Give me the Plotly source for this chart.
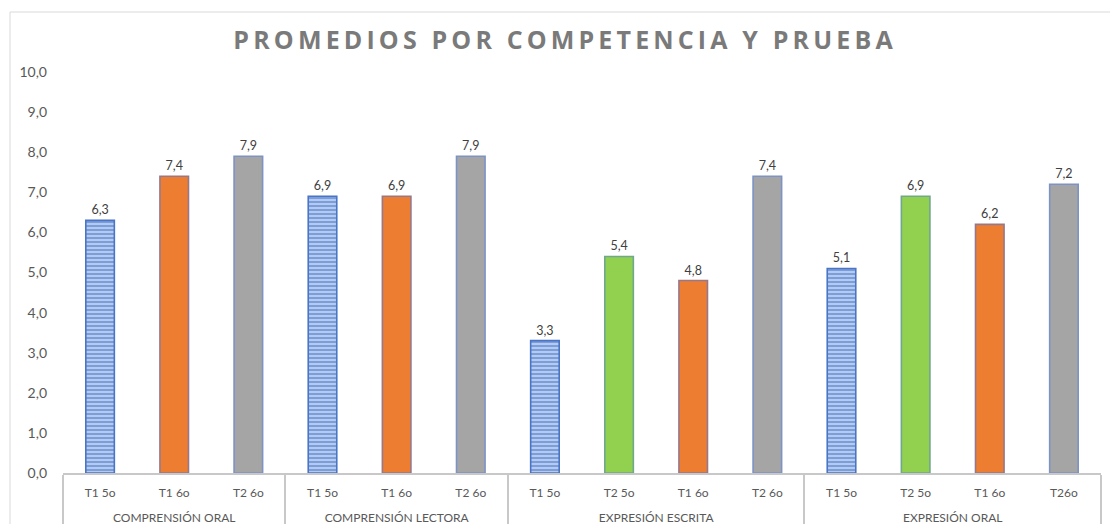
import plotly.graph_objects as go

# Averages per competence (group) and test (bar)
competencias = (["COMPRENSIÓN ORAL"] * 3 + ["COMPRENSIÓN LECTORA"] * 3
                + ["EXPRESIÓN ESCRITA"] * 4 + ["EXPRESIÓN ORAL"] * 4)
pruebas = ["T1 5o", "T1 6o", "T2 6o",
           "T1 5o", "T1 6o", "T2 6o",
           "T1 5o", "T2 5o", "T1 6o", "T2 6o",
           "T1 5o", "T2 5o", "T1 6o", "T26o"]
series = ["T1 5o", "T1 6o", "T2 6o",
          "T1 5o", "T1 6o", "T2 6o",
          "T1 5o", "T2 5o", "T1 6o", "T2 6o",
          "T1 5o", "T2 5o", "T1 6o", "T2 6o"]
promedios = [6.3, 7.4, 7.9, 6.9, 6.9, 7.9, 3.3, 5.4, 4.8, 7.4, 5.1, 6.9, 6.2, 7.2]
y_ticks = [0, 1, 2, 3, 4, 5, 6, 7, 8, 9, 10]

# Style per test series (trace order also fixes the category order)
series_order = ["T1 5o", "T2 5o", "T1 6o", "T2 6o"]
fill = {"T1 5o": "#bccff1", "T2 5o": "#92d050", "T1 6o": "#ed7d31", "T2 6o": "#a5a5a5"}
edge = {"T1 5o": "#4a74c4", "T2 5o": "#6fa88c", "T1 6o": "#96788a", "T2 6o": "#7d93c6"}
hatch = {"T1 5o": "-", "T2 5o": "", "T1 6o": "", "T2 6o": ""}

fig = go.Figure()
for s in series_order:
    idx = [i for i, v in enumerate(series) if v == s]
    fig.add_trace(go.Bar(
        x=[["<br>" + competencias[i] for i in idx], [pruebas[i] for i in idx]],
        y=[promedios[i] for i in idx],
        name=s,
        marker=dict(
            color=fill[s],
            line=dict(color=edge[s], width=1.6),
            pattern=dict(shape=hatch[s], fgcolor="#3b6cc7", bgcolor=fill[s],
                         size=4, solidity=0.55),
        ),
        texttemplate="%{y:.1f}",
        textposition="outside",
        textfont=dict(family="Lato", size=12.5, color="#404040"),
        cliponaxis=False,
        showlegend=False,
    ))

title_text = "PROMEDIOS POR COMPETENCIA Y PRUEBA"
spaced_title = "\u2009".join(title_text)

fig.update_layout(
    width=1110,
    height=524,
    margin=dict(l=63, r=9, t=72, b=51),
    paper_bgcolor="white",
    plot_bgcolor="white",
    separators=",.",
    barmode="overlay",
    bargap=0.615,
    title=dict(text=spaced_title, x=563 / 1110, xanchor="center", y=1 - 40 / 524,
               yanchor="middle", xref="container", yref="container",
               font=dict(family="Open Sans", size=25, color="#7a7a7a", weight="bold")),
    xaxis=dict(
        type="multicategory",
        showline=True, linecolor="#c8c8c8", linewidth=1.5,
        showdividers=True, dividercolor="#c8c8c8", dividerwidth=1.5,
        tickfont=dict(family="Lato", size=12, color="#595959"),
        ticks="outside", ticklen=2, tickcolor="rgba(0,0,0,0)",
        ticklabelstandoff=8, showgrid=False, automargin=False,
    ),
    yaxis=dict(
        range=[0, 10], tickvals=y_ticks, tickformat=".1f",
        showgrid=False, zeroline=False, showline=False,
        tickfont=dict(family="Lato", size=14, color="#595959"),
        ticks="", ticklabelstandoff=15, automargin=False,
    ),
    shapes=[dict(type="rect", xref="paper", yref="paper",
                 x0=(10 - 63) / 1038, x1=(1115 - 63) / 1038,
                 y0=(473 - 540) / 401, y1=(473 - 12) / 401,
                 line=dict(color="#d9d9d9", width=1), layer="below")],
)

fig.write_html("out.html")
